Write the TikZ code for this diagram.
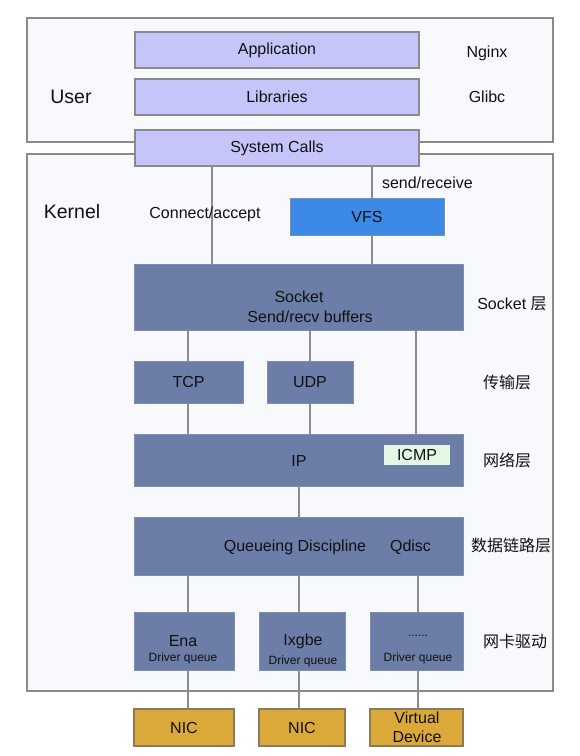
\documentclass[tikz,border=0pt]{standalone}
\usepackage{fontspec}
\setmainfont{Liberation Sans}
\newfontfamily\cjk{Noto Sans CJK SC}
\definecolor{bgfill}{HTML}{F8F9FC}
\definecolor{bgline}{HTML}{8A8A8A}
\definecolor{lav}{HTML}{C5C5FA}
\definecolor{slate}{HTML}{6C7DA8}
\definecolor{slateline}{HTML}{7E8DB2}
\definecolor{vfsblue}{HTML}{3D8AE6}
\definecolor{icmpg}{HTML}{E2F8E4}
\definecolor{gold}{HTML}{DBA83A}
\definecolor{goldline}{HTML}{8C7B5A}
\definecolor{txt}{HTML}{111111}
\definecolor{conn}{HTML}{8C8C8C}
\begin{document}
\begin{tikzpicture}[x=1pt,y=-1pt,
  every node/.style={inner sep=0pt,outer sep=0pt,text=txt,font=\fontsize{16}{18}\selectfont},
  region/.style={draw=bgline,fill=bgfill,line width=1.5pt},
  lavbox/.style={draw=bgline,fill=lav,line width=1.5pt},
  slatebox/.style={draw=slateline,fill=slate,line width=1pt},
  vfsbox/.style={draw=slateline,fill=vfsblue,line width=1pt},
  icmpbox/.style={fill=icmpg},
  nicbox/.style={draw=goldline,fill=gold,line width=1.5pt},
  small/.style={font=\fontsize{12}{14}\selectfont},
  big/.style={font=\fontsize{19.5}{22}\selectfont},
  cjklbl/.style={font=\cjk\fontsize{16}{18}\selectfont},
  link/.style={draw=conn,line width=1.6pt}]
\useasboundingbox (0,0) rectangle (580,756);
\fill[white] (0,0) rectangle (580,756);
% regions
\node[region,minimum width=526pt,minimum height=124pt] (user) at (290,80) {};
\node[region,minimum width=526pt,minimum height=537pt] (kernel) at (290,422.5) {};
% user boxes
\node[lavbox,minimum width=284pt,minimum height=36pt] (app) at (277,50) {Application};
\node[lavbox,minimum width=284pt,minimum height=36pt] (lib) at (277,97) {Libraries};
\node[lavbox,minimum width=284pt,minimum height=36pt] (sys) at (277,148) {System Calls};
\node[big] (userlbl) at (71,97) {User};
\node (nginx) at (487,53) {Nginx};
\node (glibc) at (487,97) {Glibc};
\node[big] (kernlbl) at (72,212) {Kernel};
% kernel boxes
\node[vfsbox,minimum width=154pt,minimum height=37pt] (vfs) at (367,216.5) {VFS};
\node[slatebox,minimum width=329pt,minimum height=66pt] (socket) at (298.5,297) {};
\node (socktxt) at (299,297) {Socket};
\node (buftxt) at (310,317) {Send/recv buffers};
\node[slatebox,minimum width=109pt,minimum height=42pt] (tcp) at (188.5,382) {TCP};
\node[slatebox,minimum width=86pt,minimum height=42pt] (udp) at (310,382) {UDP};
\node[slatebox,minimum width=329pt,minimum height=52pt] (ip) at (298.5,460) {};
\node (iptxt) at (299,461) {IP};
\node[icmpbox,minimum width=66pt,minimum height=20pt] (icmp) at (417,455) {ICMP};
\node[slatebox,minimum width=329pt,minimum height=58pt] (qdisc) at (298.5,546) {};
\node (qdtxt) at (295,547) {Queueing Discipline};
\node (qdshort) at (410.5,547) {Qdisc};
\node[slatebox,minimum width=100pt,minimum height=58pt] (ena) at (184,641) {};
\node (enatxt) at (183,641) {Ena};
\node[small] (enadq) at (183,658) {Driver queue};
\node[slatebox,minimum width=86pt,minimum height=58pt] (ixgbe) at (302,641) {};
\node (ixtxt) at (303,641) {Ixgbe};
\node[small] (ixdq) at (303,661) {Driver queue};
\node[slatebox,minimum width=93pt,minimum height=58pt] (dots) at (416.5,641) {};
\node[small] (dotstxt) at (418,636) {......};
\node[small] (dotsdq) at (418,658) {Driver queue};
% NICs
\node[nicbox,minimum width=100pt,minimum height=37pt] (nic1) at (184,727.5) {NIC};
\node[nicbox,minimum width=86pt,minimum height=37pt] (nic2) at (302,727.5) {NIC};
\node[nicbox,minimum width=93pt,minimum height=37pt] (vdev) at (416.5,727.5) {};
\node (vdtxt) at (417,718) {Virtual};
\node (vdtxt2) at (417,737) {Device};
% side labels
\node (socklayer) at (512,304) {Socket {\cjk 层}};
\node[cjklbl] (translayer) at (507,382) {传输层};
\node[cjklbl] (netlayer) at (507,460) {网络层};
\node[cjklbl] (linklayer) at (511,545) {数据链路层};
\node[cjklbl] (drvlayer) at (515,641) {网卡驱动};
% connector x positions
\coordinate (cax) at (212,0);
\coordinate (srx) at (372,0);
\coordinate (tcx) at (188,0);
\coordinate (udx) at (310,0);
\coordinate (icx) at (416,0);
\coordinate (qx2) at (299,0);
\coordinate (qx3) at (418,0);
% connectors
\draw[link] (sys.south -| cax) -- (socket.north -| cax);
\draw[link] (sys.south -| srx) -- (vfs.north -| srx);
\draw[link] (vfs.south -| srx) -- (socket.north -| srx);
\draw[link] (socket.south -| tcx) -- (tcp.north -| tcx);
\draw[link] (socket.south -| udx) -- (udp.north -| udx);
\draw[link] (socket.south -| icx) -- (ip.north -| icx);
\draw[link] (tcp.south -| tcx) -- (ip.north -| tcx);
\draw[link] (udp.south -| udx) -- (ip.north -| udx);
\draw[link] (ip.south -| qx2) -- (qdisc.north -| qx2);
\draw[link] (qdisc.south -| tcx) -- (ena.north -| tcx);
\draw[link] (qdisc.south -| qx2) -- (ixgbe.north -| qx2);
\draw[link] (qdisc.south -| qx3) -- (dots.north -| qx3);
\draw[link] (ena.south -| tcx) -- (nic1.north -| tcx);
\draw[link] (ixgbe.south -| qx2) -- (nic2.north -| qx2);
\draw[link] (dots.south -| qx3) -- (vdev.north -| qx3);
% connector labels
\node (calbl) at (205,214) {Connect/accept};
\node[anchor=west] (srlbl) at (382,183) {send/receive};
\end{tikzpicture}
\end{document}
